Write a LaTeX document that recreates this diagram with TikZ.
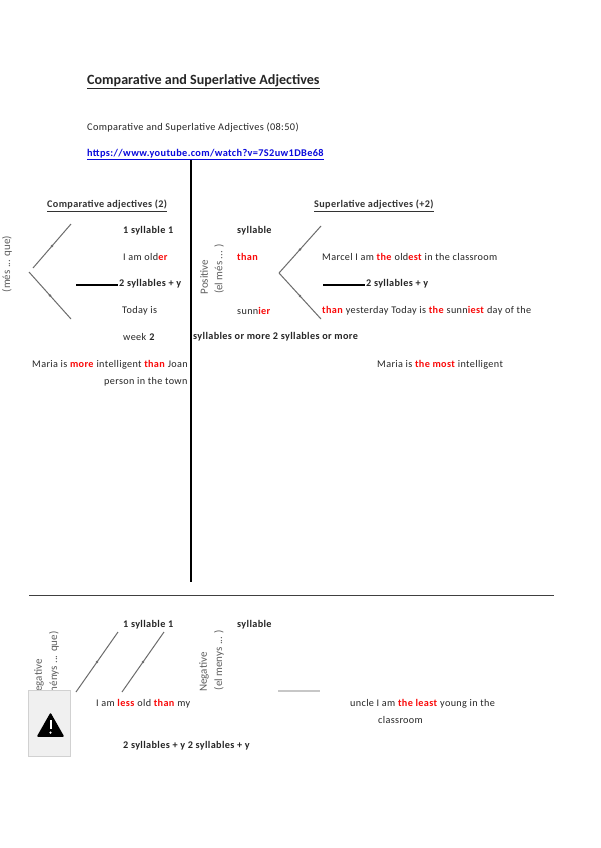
\documentclass[tikz,border=0pt]{standalone}
\usepackage{fontspec}
\setmainfont[LetterSpace=3.5]{Carlito}
\newfontfamily\plainfont{Carlito}
\usetikzlibrary{calc}
\definecolor{redw}{RGB}{250,10,10}
\definecolor{lnk}{RGB}{10,10,220}
\definecolor{gtxt}{RGB}{95,95,95}
\newcommand{\rw}[1]{\textcolor{redw}{\textbf{#1}}}
\tikzset{
 x=1pt,y=-1pt,
 txt/.style={anchor=west,inner sep=0pt,yshift=-1.8pt,font=\fontsize{10.2}{12}\selectfont,text=black!85},
 btxt/.style={txt,font=\fontsize{10.2}{12}\selectfont\bfseries},
 head/.style={btxt,text=black!80},
 vert/.style={rotate=90,anchor=center,inner sep=0pt,font=\plainfont\fontsize{11}{13}\selectfont,text=gtxt},
 heavy/.style={line width=1.9pt,black},
 bar/.style={line width=1.3pt,black},
 branch/.style={line width=1pt,gray!85!black},
 tick/.style={fill=gray!85!black,circle,inner sep=0.9pt},
}
\newcommand{\brline}[2]{\draw[branch] (#1) -- (#2) node[midway,tick]{};}
\begin{document}
\begin{tikzpicture}
\useasboundingbox[fill=white] (0,0) rectangle (600,848);
% rules
\coordinate (a1) at (191,160); \coordinate (a2) at (191,582);
\draw[heavy] (a1) -- (a2);
\coordinate (r1) at (29,595); \coordinate (r2) at (554,595);
\draw[line width=0.8pt,black!75] (r1) -- (r2);
% header
\node[txt,font=\plainfont\fontsize{14.1}{16}\selectfont\bfseries] (title) at (87,80) {\underline{Comparative and Superlative Adjectives}};
\node[txt,font=\fontsize{10.3}{12}\selectfont,text=black!85] (sub) at (87,126) {Comparative and Superlative Adjectives (08:50)};
\node[btxt,text=lnk,font=\fontsize{10.3}{12}\selectfont\bfseries] (url) at (87,153) {\underline{https://www.youtube.com/watch?v=7S2uw1DBe68}};
\node[head] (hc) at (47,204) {\underline{Comparative adjectives (2)}};
\node[head] (hs) at (314,204) {\underline{Superlative adjectives (+2)}};
% left column
\node[vert] (v1) at (7,264) {(més ... que)};
\coordinate (b1) at (33,268); \coordinate (b2) at (71,224);
\coordinate (b3) at (29,272); \coordinate (b4) at (71,319);
\brline{b1}{b2}\brline{b3}{b4}
\node[btxt] (t1) at (123,229) {1 syllable 1};
\node[btxt] (t2) at (237,229) {syllable};
\node[txt] (t3) at (123,255) {I am old\rw{er}};
\node[txt] (t4) at (237,255) {\rw{than}};
\coordinate (c1) at (76,285); \coordinate (c2) at (118,285);
\draw[bar] (c1) -- (c2);
\node[btxt] (t5) at (119,282) {2 syllables + y};
\node[txt] (t6) at (122,309) {Today is};
\node[txt] (t7) at (237,309) {sunn\rw{ier}};
\node[txt] (t8) at (123,335) {week \textbf{2}};
\node[btxt] (t9) at (193,335) {syllables or more 2 syllables or more};
\node[txt] (t10) at (32,363) {Maria is \rw{more} intelligent \rw{than} Joan};
\node[txt] (t11) at (104,380) {person in the town};
% right column
\node[vert,text=gtxt] (v2) at (204,277) {Positive};
\node[vert] (v3) at (219,269) {(el més ... )};
\coordinate (d0) at (279,273); \coordinate (d1) at (321,226); \coordinate (d2) at (321,319);
\brline{d0}{d1}\brline{d0}{d2}
\node[txt] (t12) at (322,255) {Marcel I am \rw{the} old\rw{est} in the classroom};
\coordinate (e1) at (323,285); \coordinate (e2) at (365,285);
\draw[bar] (e1) -- (e2);
\node[btxt] (t13) at (366,282) {2 syllables + y};
\node[txt] (t14) at (322,309) {\rw{than} yesterday Today is \rw{the} sunn\rw{iest} day of the};
\node[txt] (t15) at (377,363) {Maria is \rw{the most} intelligent};
% bottom
\node[vert] (v4) at (39,679) {Negative};
\node[vert] (v5) at (54,665) {(ménys ... que)};
\coordinate (f1) at (76,692); \coordinate (f2) at (118,632);
\coordinate (f3) at (122,692); \coordinate (f4) at (164,632);
\brline{f1}{f2}\brline{f3}{f4}
\node[btxt] (t16) at (123,623) {1 syllable 1};
\node[btxt] (t17) at (237,623) {syllable};
\node[vert] (v6) at (204,672) {Negative};
\node[vert] (v7) at (219,660) {(el menys ... )};
\coordinate (g1) at (278,691); \coordinate (g2) at (320,691);
\draw[line width=1.2pt,black!22] (g1) -- (g2);
\node[txt] (t18) at (96,702) {I am \rw{less} old \rw{than} my};
\node[txt] (t19) at (350,702) {uncle I am \rw{the least} young in the};
\node[txt] (t20) at (378,718) {classroom};
\node[btxt] (t21) at (123,744) {2 syllables + y 2 syllables + y};
% warning placeholder
\node[draw=black!18,fill=black!6,line width=0.8pt,minimum width=42pt,minimum height=66pt,inner sep=0pt] (ph) at (49.5,723.5) {};
\draw[black,fill=black,line width=1.5pt,line join=round] (50.5,714) -- (63,736) -- (38,736) -- cycle;
\draw[white,line width=2pt] (50.5,720) -- (50.5,729);
\fill[white] (50.5,732.6) circle (1.2);
\end{tikzpicture}
\end{document}
